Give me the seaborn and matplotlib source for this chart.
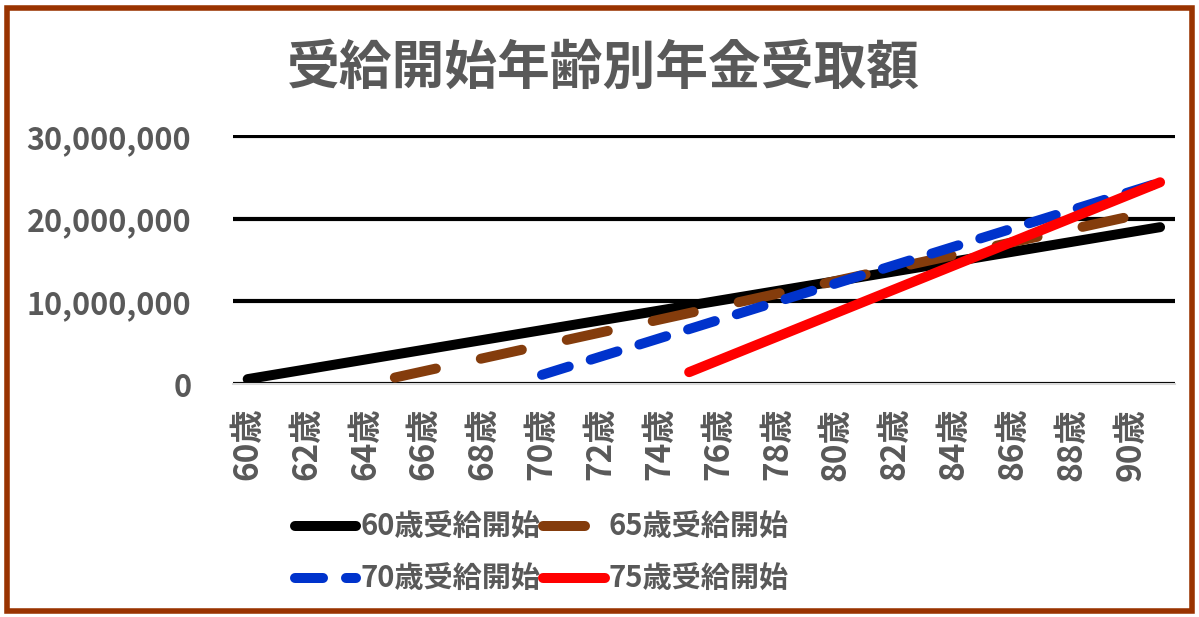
import pandas as pd
import matplotlib
matplotlib.use('Agg')
import matplotlib.pyplot as plt
import seaborn as sns
from matplotlib.patches import Rectangle

sns.set_theme(style="white")
plt.rcParams['font.family'] = ['Noto Sans CJK JP', 'DejaVu Sans']
plt.rcParams['font.weight'] = 'bold'

# データ(累計受取額, 円)
ages_60 = list(range(60, 92))
ages_65 = list(range(65, 92))
ages_70 = list(range(70, 92))
ages_75 = list(range(75, 92))

total_60 = [593000, 1187000, 1780000, 2374000, 2967000, 3561000, 4154000, 4748000,
            5341000, 5935000, 6528000, 7122000, 7715000, 8309000, 8902000, 9496000,
            10089000, 10683000, 11276000, 11870000, 12463000, 13057000, 13650000, 14244000,
            14837000, 15431000, 16024000, 16618000, 17211000, 17805000, 18398000, 18991000]
total_65 = [781000, 1562000, 2343000, 3124000, 3905000, 4685000, 5466000, 6247000,
            7028000, 7809000, 8590000, 9371000, 10152000, 10933000, 11714000, 12494000,
            13275000, 14056000, 14837000, 15618000, 16399000, 17180000, 17961000, 18742000,
            19523000, 20303000, 21084000]
total_70 = [1109000, 2218000, 3327000, 4436000, 5544000, 6653000, 7762000, 8871000,
            9980000, 11089000, 12198000, 13307000, 14415000, 15524000, 16633000, 17742000,
            18851000, 19960000, 21069000, 22178000, 23286000, 24395000]
total_75 = [1437000, 2874000, 4311000, 5747000, 7184000, 8621000, 10058000, 11495000,
            12932000, 14369000, 15805000, 17242000, 18679000, 20116000, 21553000, 22990000,
            24427000]

labels = ['60歳受給開始', '65歳受給開始', '70歳受給開始', '75歳受給開始']
tick_ages = list(range(60, 91, 2))
yticks = [0, 10000000, 20000000, 30000000]

grey = '#595959'
series = [
    (ages_60, total_60, labels[0], 'black', None),
    (ages_65, total_65, labels[1], '#843C0C', (4.2, 4.6)),
    (ages_70, total_70, labels[2], '#0033CC', (2.8, 2.3)),
    (ages_75, total_75, labels[3], '#FF0000', None),
]

fig = plt.figure(figsize=(11.99, 6.17), dpi=100)
ax = fig.add_axes([0.1943, 0.3776, 0.7855, 0.4036])

handles = {}
for x, y, lab, col, dash in series:
    df = pd.DataFrame({'age': x, 'total': y})
    sns.lineplot(data=df, x='age', y='total', ax=ax, color=col, linewidth=7.2,
                 label=lab, solid_capstyle='round', dash_capstyle='round')
    line = ax.get_lines()[-1]
    if dash is not None:
        line.set_dashes(dash)
    handles[lab] = line

ax.set_xlim(59.5, 91.5)
ax.set_ylim(0, 30150000)
ax.set_xticks(tick_ages)
ax.set_xticklabels([f'{a}歳' for a in tick_ages], rotation=90, fontsize=24,
                   color=grey, fontweight='bold', va='top')
ax.set_yticks(yticks)
ax.set_yticklabels([f'{v:,}' for v in yticks], fontsize=22, color=grey, fontweight='bold')
ax.tick_params(axis='x', length=0, pad=17)
ax.tick_params(axis='y', length=0, pad=30)
ax.set_xlabel('')
ax.set_ylabel('')

ax.yaxis.grid(True, color='black', linewidth=3)
ax.xaxis.grid(False)
for s in ['top', 'right', 'left']:
    ax.spines[s].set_visible(False)
ax.spines['bottom'].set_color('#D9D9D9')
ax.spines['bottom'].set_linewidth(1.5)
ax.set_axisbelow(True)

ax.get_legend().remove()
order = [labels[0], labels[2], labels[1], labels[3]]
leg = fig.legend([handles[k] for k in order], order, ncol=2, loc='center',
                 bbox_to_anchor=(0.452, 0.104), frameon=False,
                 prop={'size': 21, 'weight': 'bold'}, handlelength=2.1,
                 handletextpad=0.15, columnspacing=0.1, labelspacing=0.75)
for t in leg.get_texts():
    t.set_color(grey)

fig.text(0.503, 0.89, '受給開始年齢別年金受取額', ha='center', va='center',
         fontsize=38, fontweight='bold', color=grey)

fig.patches.append(Rectangle((0.006, 0.009), 0.988, 0.978, transform=fig.transFigure,
                             fill=False, edgecolor='#993300', linewidth=4))

fig.savefig('out.png', dpi=100)
